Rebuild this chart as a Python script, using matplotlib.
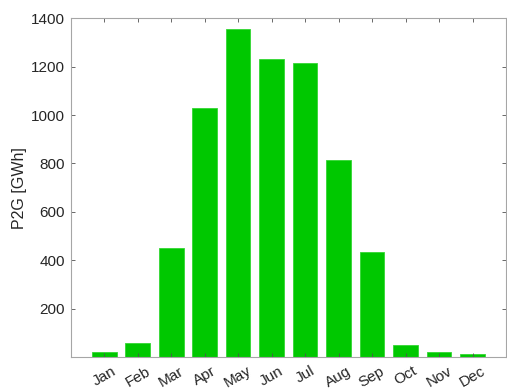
import matplotlib.pyplot as plt
import numpy as np

plt.rcParams['font.family'] = ['Liberation Sans', 'DejaVu Sans']

# Monthly P2G energy (GWh)
months = ['Jan', 'Feb', 'Mar', 'Apr', 'May', 'Jun',
          'Jul', 'Aug', 'Sep', 'Oct', 'Nov', 'Dec']
p2g = [19, 58, 450, 1030, 1354, 1231, 1216, 815, 434, 50, 22, 12]
yticks = [200, 400, 600, 800, 1000, 1200, 1400]

text_col = '#262626'
axis_col = '#a6a6a6'

fig = plt.figure(figsize=(5.07, 3.89), dpi=100)
ax = fig.add_axes([0.1394, 0.0823, 0.8586, 0.8707])

x = np.arange(len(months))
ax.bar(x, p2g, width=0.74, color='#00c800', edgecolor='#33d633', linewidth=0.6)

ax.set_xlim(-1, 12)
ax.set_ylim(0, 1400)
ax.set_xticks(x)
ax.set_xticklabels(months, rotation=30, ha='center')
ax.set_yticks(yticks)
ax.set_ylabel('P2G [GWh]', fontsize=11.5, color=text_col, labelpad=3)

for s in ax.spines.values():
    s.set_color(axis_col)
    s.set_linewidth(0.8)

ax.tick_params(direction='in', length=3, width=0.6, color='#505050',
               top=True, right=True, labelsize=11, labelcolor=text_col)
ax.tick_params(axis='x', pad=5)
ax.tick_params(axis='y', pad=4)

fig.savefig('out.png', dpi=100)
